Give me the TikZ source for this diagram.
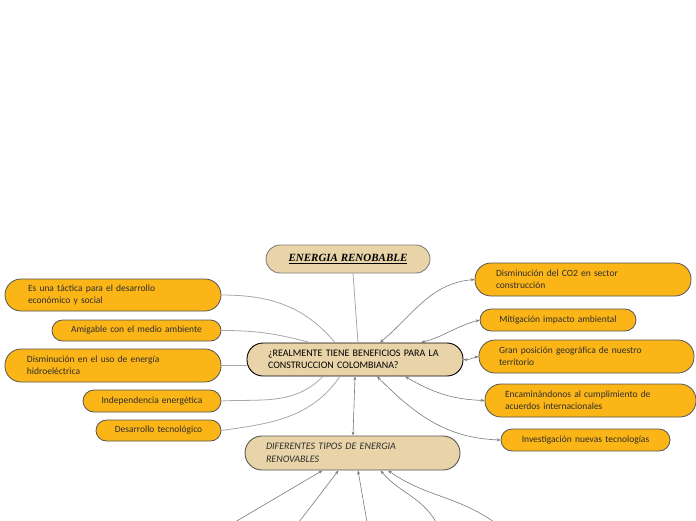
\documentclass[tikz,border=0pt]{standalone}
\usepackage{fontspec}
\setmainfont{Carlito}
\newfontfamily\serifb{Liberation Serif}
\usetikzlibrary{arrows.meta,calc}
\definecolor{orangeC}{HTML}{FBB517}
\definecolor{tanC}{HTML}{E8D4A8}
\definecolor{txtC}{HTML}{2E2E2E}
\definecolor{bordC}{HTML}{555555}
\definecolor{lineL}{HTML}{A8A8A8}
\definecolor{lineR}{HTML}{7A7A7A}
\begin{document}
\begin{tikzpicture}[x=1pt,y=-1pt,
  obox/.style={draw=bordC, fill=orangeC, line width=0.8pt, text=txtC,
    font=\fontsize{9.5}{12}\selectfont, inner ysep=0pt},
  tbox/.style={fill=tanC, line width=0.9pt, text=txtC, inner ysep=0pt},
  lconn/.style={draw=lineL, line width=0.8pt},
  rconn/.style={draw=lineR, line width=0.6pt, {Stealth[length=4pt,width=3pt]}-{Stealth[length=4pt,width=3pt]}},
  bconn/.style={draw=lineR, line width=0.6pt, -{Stealth[length=4pt,width=3pt]}}
]
\useasboundingbox (0,0) rectangle (696,520);
\fill[white] (0,0) rectangle (696,520);

% free ends below
\coordinate (b1) at (235,522);
\coordinate (b2) at (299,522);
\coordinate (b3) at (367,522);
\coordinate (b4) at (436,522);
\coordinate (b5) at (494,522);

% title node
\node[tbox, draw=gray, minimum width=164pt, minimum height=28pt, rounded corners=14pt,
  font=\serifb\bfseries\itshape\fontsize{11}{13}\selectfont, text=black]
  (e) at (348,259) {\underline{ENERGIA RENOBABLE}};

% central node
\node[tbox, draw=black, minimum width=216pt, minimum height=33pt, rounded corners=16pt,
  inner xsep=21pt, text width=174pt, align=left, font=\fontsize{10}{12}\selectfont, text=black]
  (c) at (355,359.5) {¿REALMENTE TIENE BENEFICIOS PARA LA\\CONSTRUCCION COLOMBIANA?};

% bottom node
\node[tbox, draw=bordC, minimum width=215pt, minimum height=34pt, rounded corners=17pt,
  inner xsep=21pt, text width=173pt, align=left, font=\itshape\fontsize{10}{12.5}\selectfont]
  (d) at (352.5,453) {DIFERENTES TIPOS DE ENERGIA\\RENOVABLES};

% left nodes
\node[obox, minimum width=216pt, minimum height=32pt, rounded corners=16pt,
  inner xsep=23pt, text width=170pt, align=left]
  (l1) at (113,295) {Es una táctica para el desarrollo\\económico y social};
\node[obox, minimum width=169pt, minimum height=21pt, rounded corners=10.5pt,
  inner xsep=10pt, text width=149pt, align=center]
  (l2) at (136.5,330.5) {Amigable con el medio ambiente};
\node[obox, minimum width=216pt, minimum height=33pt, rounded corners=16pt,
  inner xsep=22pt, text width=172pt, align=left]
  (l3) at (113,365.5) {Disminución en el uso de energía\\hidroeléctrica};
\node[obox, minimum width=138pt, minimum height=22pt, rounded corners=11pt,
  inner xsep=10pt, text width=118pt, align=center]
  (l4) at (152,401) {Independencia energética};
\node[obox, minimum width=125pt, minimum height=21pt, rounded corners=10.5pt,
  inner xsep=10pt, text width=105pt, align=center]
  (l5) at (158.5,430.5) {Desarrollo tecnológico};

% right nodes
\node[obox, minimum width=216pt, minimum height=33pt, rounded corners=16pt,
  inner xsep=21pt, text width=174pt, align=left]
  (r1) at (583,279.5) {Disminución del CO2 en sector\\construcción};
\node[obox, minimum width=156pt, minimum height=22pt, rounded corners=11pt,
  inner xsep=10pt, text width=136pt, align=center]
  (r2) at (558,320) {Mitigación impacto ambiental};
\node[obox, minimum width=215pt, minimum height=33pt, rounded corners=16pt,
  inner xsep=20pt, text width=175pt, align=left]
  (r3) at (586.5,356.5) {Gran posición geográfica de nuestro\\territorio};
\node[obox, minimum width=211pt, minimum height=33pt, rounded corners=16pt,
  inner xsep=20pt, text width=171pt, align=left]
  (r4) at (590.5,400.5) {Encaminándonos al cumplimiento de\\acuerdos internacionales};
\node[obox, minimum width=169pt, minimum height=22pt, rounded corners=11pt,
  inner xsep=10pt, text width=149pt, align=center]
  (r5) at (585.5,440) {Investigación nuevas tecnologías};

% title to center
\draw[lconn] ($(e.south)+(5,0)$) -- ($(c.north)+(3,0)$);
% left connectors
\draw[lconn] (l1.east) to[out=0,in=130] ($(c.north)+(-20,0)$);
\draw[lconn] (l2.east) to[out=0,in=165] ($(c.north)+(-45,0)$);
\draw[lconn] (l3.east) -- (c.west |- l3.east);
\draw[lconn] (l4.east) to[out=3,in=-135] ($(c.south)+(-32,0)$);
\draw[lconn] (l5.east) to[out=8,in=-125] ($(c.south)+(-15,0)$);
% right connectors
\draw[rconn] ($(c.north)+(25,0)$) to[out=40,in=185] (r1.west);
\draw[rconn] ($(c.north)+(66,0)$) to[out=15,in=195] (r2.west);
\draw[rconn] (c.east) to[out=-5,in=190] (r3.west);
\draw[rconn] ($(c.south)+(50,0)$) to[out=-30,in=178] (r4.west);
\draw[rconn] ($(c.south)+(22,0)$) to[out=-45,in=178] (r5.west);
\draw[rconn] (c.south) -- ($(d.north)+(0.5,0)$);
% bottom connectors
\draw[bconn] (b1) -- ($(d.south)+(-30,0)$);
\draw[bconn] (b2) -- ($(d.south)+(-14,0)$);
\draw[bconn] (b3) to[out=100,in=-80] ($(d.south)+(5.5,0)$);
\draw[bconn] (b4) to[out=120,in=-50] ($(d.south)+(28,0)$);
\draw[bconn] (b5) to[out=145,in=-35] ($(d.south)+(35.5,0)$);
\end{tikzpicture}
\end{document}
